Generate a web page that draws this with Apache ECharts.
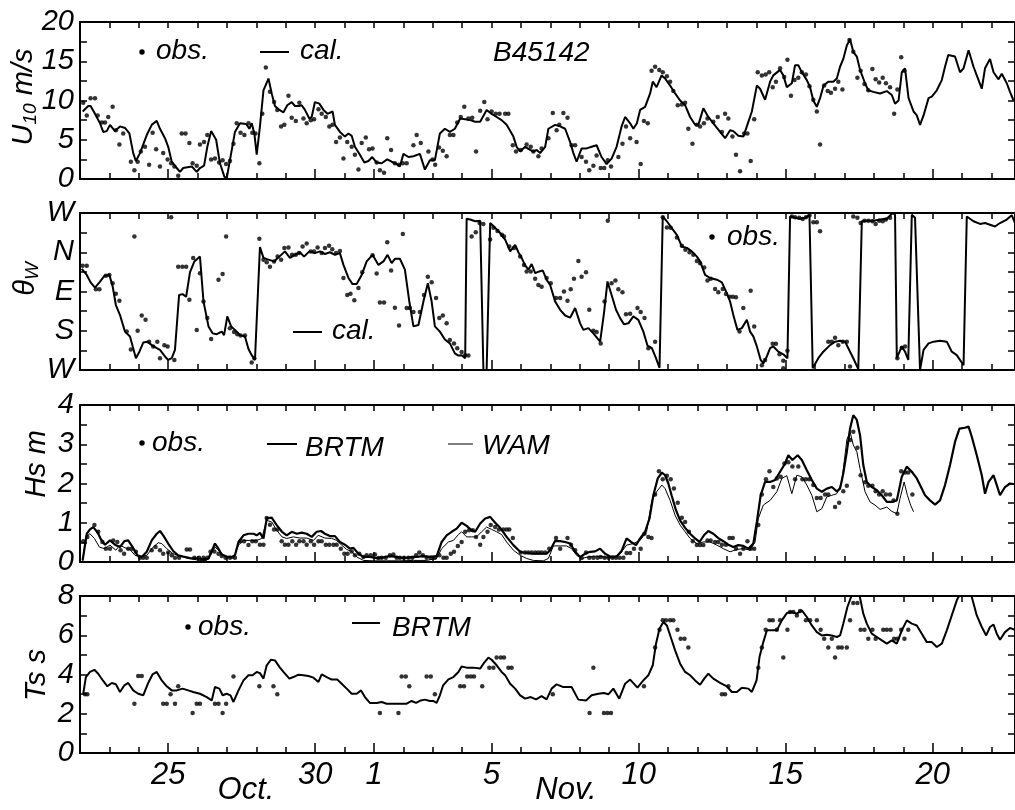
<!DOCTYPE html>
<html>
<head>
<meta charset="utf-8">
<script src="https://cdn.jsdelivr.net/npm/echarts@6/dist/echarts.min.js"></script>
<style>html,body{margin:0;padding:0;background:#fff}#c{width:1015px;height:810px}</style>
</head>
<body>
<div id="c"></div>
<script>
// x values are day numbers: Oct 22 = 22, Oct 31 = 31, Nov 1 = 32 ... Nov 20 = 51
const dayTicks = [25, 30, 32, 36, 41, 46, 51];
const dayLabels = ['25', '30', '1', '5', '10', '15', '20'];
const dirLabels = ['W', 'S', 'E', 'N', 'W']; // 0,90,180,270,360

const u10Cal = [[22.09,8.6],[22.28,9.3],[22.36,9.3],[22.51,8.3],[22.68,7.1],[22.79,6.0],[22.91,6.1],[23.02,6.9],[23.19,6.1],[23.36,6.7],[23.53,6.5],[23.68,5.8],[23.81,3.3],[23.90,2.3],[24.04,3.3],[24.27,5.6],[24.44,6.9],[24.61,7.4],[24.72,6.4],[24.89,5.2],[25.00,4.1],[25.12,2.2],[25.29,1.4],[25.40,0.9],[25.51,1.4],[25.80,1.6],[25.97,0.9],[26.08,1.4],[26.22,1.7],[26.33,4.1],[26.46,6.1],[26.63,5.0],[26.76,2.0],[26.91,0.3],[26.99,0.1],[27.10,2.4],[27.27,6.0],[27.44,7.1],[27.65,7.0],[27.76,6.4],[27.84,7.1],[27.93,5.8],[28.01,3.1],[28.12,6.7],[28.24,11.3],[28.41,12.8],[28.52,10.9],[28.63,9.3],[28.78,8.8],[28.92,8.5],[29.05,9.4],[29.20,9.8],[29.31,9.3],[29.45,9.3],[29.54,9.4],[29.65,8.8],[29.80,7.7],[29.88,7.9],[29.99,9.8],[30.14,9.6],[30.28,8.8],[30.42,8.3],[30.59,8.6],[30.67,6.9],[30.84,6.0],[31.01,5.4],[31.13,5.8],[31.24,5.5],[31.35,4.1],[31.52,3.1],[31.67,2.1],[31.81,2.3],[31.94,2.8],[32.09,2.1],[32.26,2.0],[32.45,2.5],[32.60,2.2],[32.77,1.9],[32.88,1.6],[33.00,3.2],[33.17,2.8],[33.34,2.9],[33.56,3.2],[33.73,1.2],[33.90,2.4],[34.07,2.4],[34.24,5.8],[34.41,6.4],[34.58,6.0],[34.75,6.4],[34.93,7.7],[35.10,7.6],[35.27,7.5],[35.44,7.3],[35.61,7.3],[35.83,8.8],[36.00,8.3],[36.17,7.9],[36.34,7.5],[36.51,6.9],[36.74,5.4],[36.85,4.1],[36.97,3.5],[37.14,4.1],[37.31,3.7],[37.42,3.5],[37.53,3.7],[37.65,3.3],[37.82,4.1],[37.93,6.4],[38.16,6.9],[38.33,6.7],[38.50,6.4],[38.67,4.7],[38.78,3.3],[38.89,2.2],[39.06,3.9],[39.23,3.9],[39.40,4.1],[39.57,4.3],[39.74,2.8],[39.91,1.9],[40.08,2.6],[40.25,4.1],[40.42,6.7],[40.54,7.9],[40.71,7.1],[40.82,6.4],[40.94,7.1],[41.05,8.8],[41.22,9.2],[41.39,10.9],[41.48,12.4],[41.61,11.7],[41.78,13.2],[41.90,12.8],[42.07,11.9],[42.24,10.9],[42.41,10.0],[42.58,9.4],[42.75,7.9],[42.92,6.9],[43.03,6.9],[43.20,9.0],[43.37,7.9],[43.54,7.1],[43.77,6.0],[43.94,5.2],[44.11,6.2],[44.22,6.1],[44.39,5.5],[44.56,5.4],[44.68,6.7],[44.85,8.6],[45.02,11.9],[45.13,11.5],[45.30,10.1],[45.47,12.4],[45.58,13.2],[45.81,13.9],[45.92,13.2],[46.04,11.7],[46.21,12.2],[46.32,14.5],[46.43,14.5],[46.55,13.6],[46.72,12.6],[46.83,11.7],[46.94,10.0],[47.06,9.2],[47.17,10.3],[47.29,11.9],[47.45,12.4],[47.62,12.4],[47.74,12.8],[47.85,14.3],[47.96,15.3],[48.08,17.0],[48.19,17.8],[48.30,16.2],[48.42,15.6],[48.53,13.9],[48.70,12.2],[48.81,11.3],[48.98,11.1],[49.21,10.9],[49.44,11.2],[49.61,10.7],[49.72,9.6],[49.84,10.0],[49.95,13.6],[50.06,14.1],[50.18,10.3],[50.35,8.6],[50.46,8.1],[50.57,6.9],[50.69,8.1],[50.86,10.3],[50.97,10.5],[51.14,11.3],[51.31,12.6],[51.42,14.3],[51.53,15.8],[51.76,15.6],[51.93,13.6],[52.05,14.1],[52.22,16.4],[52.39,14.3],[52.56,12.6],[52.67,11.5],[52.78,14.1],[52.95,15.3],[53.07,13.6],[53.24,12.7],[53.35,13.4],[53.52,12.2],[53.63,11.1],[53.75,10.0]];

const u10Obs = [[22.11,9.7],[22.23,8.1],[22.36,10.3],[22.51,10.3],[22.60,8.1],[22.74,7.2],[22.85,7.2],[22.96,7.9],[23.11,9.2],[23.22,6.2],[23.34,4.4],[23.47,5.8],[23.73,2.2],[23.85,1.1],[23.96,2.2],[24.07,3.5],[24.21,4.1],[24.35,1.8],[24.47,5.9],[24.59,3.8],[24.72,1.6],[24.83,3.3],[24.98,2.5],[25.10,2.0],[25.21,1.6],[25.34,0.4],[25.46,5.8],[25.59,5.8],[25.72,4.6],[25.83,2.0],[25.97,1.7],[26.08,4.4],[26.22,4.7],[26.33,5.6],[26.46,2.5],[26.59,2.6],[26.73,2.1],[26.85,2.4],[26.97,1.9],[27.10,2.3],[27.22,4.5],[27.33,7.1],[27.46,5.9],[27.59,5.6],[27.73,7.1],[27.86,5.9],[27.97,5.8],[28.10,2.0],[28.20,8.3],[28.32,14.2],[28.46,11.1],[28.60,9.8],[28.71,8.8],[28.84,6.7],[28.95,6.9],[29.09,10.6],[29.20,7.8],[29.34,7.4],[29.46,9.7],[29.60,7.7],[29.71,7.1],[29.85,7.5],[29.96,7.6],[30.11,8.9],[30.22,8.3],[30.36,7.9],[30.48,6.7],[30.59,6.9],[30.71,4.7],[30.84,5.3],[30.96,2.6],[31.09,4.7],[31.24,4.1],[31.35,3.1],[31.47,1.2],[31.58,4.6],[31.72,5.3],[31.83,3.8],[31.95,3.9],[32.09,2.1],[32.20,1.1],[32.34,0.8],[32.45,5.2],[32.58,3.7],[32.71,2.0],[32.85,1.8],[32.98,2.0],[33.11,2.0],[33.34,4.3],[33.45,5.6],[33.59,4.6],[33.85,3.5],[33.99,2.5],[34.08,1.8],[34.21,4.0],[34.34,3.6],[34.47,2.9],[34.58,5.6],[34.70,5.6],[34.83,7.2],[34.95,7.9],[35.07,9.2],[35.21,7.7],[35.34,7.8],[35.47,3.5],[35.61,8.7],[35.75,9.8],[35.86,7.6],[36.00,8.6],[36.14,8.3],[36.27,8.3],[36.46,8.3],[36.57,8.3],[36.72,4.3],[36.83,3.5],[36.99,3.7],[37.19,4.4],[37.33,4.1],[37.42,3.5],[37.59,2.9],[37.70,3.9],[37.93,5.2],[38.08,8.4],[38.21,6.2],[38.30,6.9],[38.44,8.4],[38.58,7.8],[38.72,4.3],[38.84,4.3],[39.06,2.8],[39.21,2.2],[39.32,1.1],[39.46,1.7],[39.57,3.0],[39.71,1.4],[39.83,1.4],[39.95,2.4],[40.06,1.6],[40.31,2.8],[40.45,4.5],[40.57,6.7],[40.71,5.2],[40.93,4.7],[41.07,1.9],[41.18,7.4],[41.31,7.1],[41.44,13.8],[41.56,14.3],[41.70,13.9],[41.82,13.6],[41.96,13.1],[42.07,12.4],[42.18,11.2],[42.33,9.4],[42.47,9.5],[42.58,9.7],[42.69,6.4],[42.83,4.5],[42.98,6.9],[43.09,6.7],[43.22,7.1],[43.34,7.7],[43.54,7.3],[43.69,7.9],[43.83,6.0],[43.94,8.3],[44.05,7.7],[44.19,5.4],[44.31,3.1],[44.45,1.0],[44.59,5.8],[44.70,5.8],[44.81,2.3],[44.93,7.6],[45.05,13.6],[45.19,13.2],[45.32,13.3],[45.44,13.6],[45.56,11.7],[45.67,12.4],[45.81,14.1],[45.95,13.0],[46.06,15.2],[46.18,10.6],[46.30,12.6],[46.43,12.9],[46.55,13.6],[46.69,13.3],[46.81,11.8],[46.94,10.1],[47.06,8.6],[47.17,4.4],[47.31,11.9],[47.43,11.2],[47.54,11.0],[47.68,11.5],[47.79,12.4],[47.93,11.4],[48.17,17.7],[48.30,16.2],[48.44,12.9],[48.55,13.8],[48.68,12.1],[48.81,11.3],[48.95,14.0],[49.06,12.7],[49.18,12.3],[49.30,12.9],[49.41,12.2],[49.55,11.7],[49.69,8.3],[49.80,11.4],[49.93,15.5],[50.04,13.8]];

const dirCal = [[22.06,232],[22.23,218],[22.36,201],[22.51,189],[22.66,201],[22.83,216],[23.00,218],[23.11,192],[23.22,149],[23.36,126],[23.53,88],[23.70,77],[23.81,50],[23.90,27],[24.02,42],[24.15,63],[24.29,65],[24.44,57],[24.61,50],[24.72,46],[24.89,31],[25.00,23],[25.12,27],[25.23,46],[25.37,172],[25.49,174],[25.61,168],[25.74,224],[25.89,249],[26.08,260],[26.20,157],[26.37,100],[26.51,84],[26.65,82],[26.82,88],[26.90,80],[27.01,123],[27.14,100],[27.27,92],[27.44,80],[27.61,77],[27.73,48],[27.84,34],[27.95,23],[28.01,19],[28.12,282],[28.24,257],[28.41,253],[28.60,249],[28.78,260],[28.97,272],[29.14,257],[29.31,264],[29.48,270],[29.62,260],[29.80,272],[29.99,268],[30.16,272],[30.33,266],[30.50,270],[30.67,264],[30.84,268],[30.96,241],[31.13,211],[31.27,197],[31.41,197],[31.58,218],[31.75,249],[31.95,264],[32.15,241],[32.32,249],[32.46,264],[32.60,245],[32.71,255],[32.88,255],[33.05,230],[33.20,157],[33.34,100],[33.51,103],[33.68,157],[33.83,199],[33.96,157],[34.07,100],[34.24,88],[34.41,70],[34.58,61],[34.75,38],[34.87,33],[34.98,34],[35.10,27],[35.15,347],[35.27,345],[35.44,341],[35.61,342],[35.72,0],[35.83,0],[35.95,337],[36.12,326],[36.29,314],[36.46,299],[36.63,272],[36.80,287],[36.91,270],[37.02,257],[37.14,240],[37.25,230],[37.36,243],[37.48,222],[37.62,226],[37.74,228],[37.87,207],[37.99,195],[38.16,157],[38.33,138],[38.50,125],[38.67,120],[38.84,142],[39.01,107],[39.12,92],[39.29,96],[39.46,84],[39.69,65],[39.82,130],[39.94,203],[40.08,172],[40.23,138],[40.37,119],[40.50,105],[40.65,107],[40.82,123],[40.99,115],[41.16,88],[41.30,56],[41.45,50],[41.59,27],[41.71,5],[41.82,352],[41.96,341],[42.12,326],[42.30,310],[42.47,283],[42.64,280],[42.81,272],[42.98,260],[43.09,249],[43.26,218],[43.43,211],[43.66,207],[43.83,201],[44.00,176],[44.11,157],[44.22,126],[44.36,92],[44.51,96],[44.68,115],[44.79,88],[44.90,77],[45.02,54],[45.15,23],[45.24,15],[45.36,31],[45.47,50],[45.58,54],[45.75,42],[45.92,36],[46.06,27],[46.15,352],[46.32,349],[46.49,347],[46.66,349],[46.81,355],[46.92,4],[47.11,27],[47.28,42],[47.51,57],[47.68,65],[47.85,67],[48.02,65],[48.19,42],[48.30,27],[48.47,2],[48.59,341],[48.76,342],[48.98,342],[49.21,345],[49.44,347],[49.64,360],[49.72,356],[49.78,27],[49.95,54],[50.06,42],[50.17,23],[50.29,356],[50.40,349],[50.57,0],[50.69,46],[50.86,61],[51.03,65],[51.25,67],[51.48,65],[51.65,42],[51.82,34],[52.05,11],[52.16,352],[52.39,341],[52.61,335],[52.78,337],[52.95,333],[53.12,329],[53.29,337],[53.52,345],[53.69,355],[53.80,337]];

const dirObs = [[22.09,239],[22.23,239],[22.54,185],[22.66,185],[22.88,216],[23.00,218],[23.11,199],[23.22,175],[23.34,159],[23.59,88],[23.73,47],[23.85,306],[23.96,90],[24.10,125],[24.23,115],[24.35,65],[24.49,54],[24.63,65],[24.72,27],[24.87,57],[24.98,54],[25.10,350],[25.21,23],[25.34,237],[25.48,237],[25.61,237],[25.72,161],[25.85,257],[25.97,92],[26.08,222],[26.20,157],[26.33,119],[26.46,71],[26.71,207],[26.85,220],[26.97,306],[27.10,96],[27.24,87],[27.35,82],[27.46,79],[27.61,79],[27.84,17],[27.93,27],[28.10,301],[28.24,253],[28.35,247],[28.46,237],[28.60,249],[28.72,260],[28.84,253],[28.95,280],[29.09,281],[29.21,264],[29.34,264],[29.45,268],[29.57,283],[29.71,290],[29.85,272],[29.96,272],[30.08,281],[30.22,268],[30.33,280],[30.47,285],[30.58,277],[30.71,268],[30.84,273],[30.96,211],[31.09,172],[31.20,175],[31.33,160],[31.47,188],[31.60,224],[31.95,263],[32.09,221],[32.20,155],[32.34,155],[32.45,293],[32.58,228],[32.71,143],[32.85,102],[32.98,312],[33.11,142],[33.22,142],[33.34,133],[33.56,133],[33.70,172],[33.83,214],[33.96,201],[34.11,165],[34.22,119],[34.34,125],[34.47,107],[34.58,69],[34.72,61],[34.83,50],[34.98,41],[35.10,34],[35.21,33],[35.32,306],[35.46,316],[35.59,337],[35.72,335],[35.95,299],[36.06,326],[36.20,319],[36.35,310],[36.42,306],[36.60,283],[36.76,280],[36.97,260],[37.10,241],[37.19,226],[37.33,226],[37.48,209],[37.59,195],[37.70,191],[37.87,211],[38.01,199],[38.19,165],[38.33,165],[38.46,180],[38.58,159],[38.69,185],[38.80,209],[38.95,250],[39.06,214],[39.21,224],[39.32,138],[39.46,90],[39.57,87],[39.71,61],[39.84,157],[39.95,342],[40.08,199],[40.21,205],[40.31,185],[40.45,178],[40.57,128],[40.71,129],[40.96,142],[41.07,133],[41.20,119],[41.33,50],[41.56,65],[41.82,350],[41.96,327],[42.09,326],[42.30,304],[42.47,285],[42.59,276],[42.73,270],[42.86,264],[42.98,250],[43.09,245],[43.23,235],[43.34,205],[43.45,209],[43.60,186],[43.71,178],[43.86,186],[43.97,174],[44.09,168],[44.20,168],[44.31,167],[44.43,88],[44.56,142],[44.81,182],[44.93,100],[45.19,11],[45.30,23],[45.56,60],[45.67,60],[45.79,36],[45.92,21],[45.92,4],[46.06,44],[46.21,352],[46.32,350],[46.46,349],[46.58,346],[46.69,350],[46.81,355],[46.94,339],[47.06,339],[47.17,318],[47.45,65],[47.57,65],[47.68,74],[47.79,57],[47.94,65],[48.08,65],[48.19,8],[48.30,352],[48.44,349],[48.55,337],[48.68,342],[48.81,342],[48.95,341],[49.06,335],[49.18,342],[49.30,341],[49.41,345],[49.55,349],[49.80,27],[49.95,51],[50.06,54]];

const hsBrtm = [[22.09,0.04],[22.23,0.72],[22.34,0.83],[22.45,0.89],[22.60,0.75],[22.71,0.58],[22.85,0.44],[23.02,0.55],[23.19,0.44],[23.36,0.38],[23.51,0.53],[23.64,0.55],[23.79,0.38],[23.95,0.17],[24.10,0.13],[24.27,0.26],[24.44,0.55],[24.61,0.72],[24.72,0.79],[24.83,0.68],[25.00,0.47],[25.17,0.28],[25.34,0.17],[25.51,0.14],[25.74,0.10],[25.97,0.09],[26.20,0.07],[26.37,0.09],[26.44,0.21],[26.59,0.47],[26.71,0.34],[26.82,0.19],[26.99,0.14],[27.16,0.13],[27.27,0.17],[27.39,0.51],[27.56,0.68],[27.73,0.72],[27.90,0.72],[28.01,0.68],[28.12,0.74],[28.24,0.60],[28.35,1.11],[28.52,1.13],[28.69,0.94],[28.87,0.77],[29.03,0.68],[29.20,0.77],[29.37,0.72],[29.54,0.75],[29.71,0.72],[29.88,0.64],[30.05,0.77],[30.20,0.79],[30.33,0.72],[30.50,0.66],[30.67,0.66],[30.84,0.51],[31.01,0.44],[31.18,0.34],[31.30,0.36],[31.47,0.21],[31.64,0.13],[31.86,0.13],[32.09,0.10],[32.32,0.12],[32.54,0.15],[32.77,0.13],[33.00,0.10],[33.22,0.12],[33.45,0.13],[33.68,0.15],[33.90,0.13],[34.13,0.15],[34.30,0.51],[34.47,0.68],[34.64,0.77],[34.81,0.85],[34.98,1.00],[35.15,0.92],[35.32,0.81],[35.44,0.77],[35.61,0.98],[35.78,1.11],[35.95,1.15],[36.12,1.00],[36.29,0.87],[36.51,0.64],[36.74,0.43],[36.97,0.26],[37.19,0.23],[37.42,0.21],[37.65,0.21],[37.87,0.21],[37.99,0.30],[38.16,0.54],[38.33,0.53],[38.50,0.51],[38.67,0.47],[38.84,0.26],[39.01,0.13],[39.18,0.21],[39.35,0.26],[39.52,0.27],[39.69,0.34],[39.86,0.21],[40.03,0.14],[40.25,0.14],[40.42,0.28],[40.59,0.60],[40.74,0.51],[40.91,0.43],[41.05,0.60],[41.22,0.77],[41.37,1.11],[41.50,1.70],[41.65,2.13],[41.79,2.28],[41.90,2.21],[42.01,2.00],[42.12,1.70],[42.27,1.32],[42.41,1.06],[42.58,0.87],[42.75,0.72],[42.92,0.60],[43.07,0.51],[43.22,0.68],[43.37,0.79],[43.54,0.72],[43.71,0.61],[43.88,0.53],[44.05,0.44],[44.22,0.38],[44.39,0.43],[44.56,0.41],[44.73,0.34],[44.90,0.47],[45.02,1.02],[45.15,1.70],[45.30,2.04],[45.47,2.04],[45.64,2.09],[45.81,2.30],[45.98,2.51],[46.09,2.72],[46.23,2.60],[46.41,2.72],[46.55,2.60],[46.72,2.34],[46.89,2.09],[47.06,1.87],[47.23,1.79],[47.40,1.87],[47.57,1.91],[47.74,1.80],[47.85,1.87],[47.96,2.26],[48.08,2.81],[48.19,3.40],[48.30,3.74],[48.42,3.62],[48.53,3.23],[48.64,2.47],[48.76,2.04],[48.93,1.91],[49.10,1.83],[49.27,1.70],[49.44,1.53],[49.61,1.53],[49.78,1.57],[49.95,2.17],[50.12,2.43],[50.29,2.30],[50.46,2.13],[50.57,1.96],[50.74,1.70],[50.91,1.57],[51.08,1.46],[51.25,1.57],[51.42,1.96],[51.59,2.47],[51.76,3.06],[51.91,3.40],[52.10,3.42],[52.22,3.45],[52.33,3.19],[52.50,2.72],[52.67,2.21],[52.78,1.74],[52.90,2.04],[53.07,2.21],[53.18,1.96],[53.29,1.70],[53.46,1.91],[53.63,2.00],[53.80,1.98]];

const hsWam = [[22.09,0.0],[22.20,0.64],[22.34,0.72],[22.49,0.60],[22.66,0.38],[22.83,0.34],[23.02,0.43],[23.22,0.30],[23.36,0.43],[23.53,0.36],[23.70,0.32],[23.87,0.17],[24.04,0.13],[24.27,0.17],[24.49,0.38],[24.66,0.49],[24.78,0.47],[24.95,0.34],[25.17,0.21],[25.40,0.15],[25.63,0.10],[25.85,0.07],[26.08,0.04],[26.31,0.04],[26.44,0.17],[26.59,0.38],[26.76,0.27],[26.93,0.13],[27.22,0.09],[27.39,0.43],[27.56,0.55],[27.79,0.55],[28.01,0.55],[28.18,0.60],[28.35,1.06],[28.52,1.02],[28.69,0.81],[28.87,0.64],[29.03,0.60],[29.26,0.64],[29.48,0.61],[29.71,0.61],[29.94,0.55],[30.10,0.68],[30.33,0.61],[30.56,0.60],[30.73,0.55],[30.90,0.43],[31.07,0.32],[31.24,0.27],[31.41,0.13],[31.64,0.04],[31.98,0.03],[32.43,0.03],[32.88,0.03],[33.34,0.04],[33.79,0.04],[34.13,0.09],[34.30,0.34],[34.53,0.51],[34.70,0.55],[34.87,0.70],[34.98,0.77],[35.15,0.64],[35.32,0.64],[35.49,0.64],[35.66,0.77],[35.83,0.89],[36.00,0.83],[36.17,0.77],[36.34,0.70],[36.51,0.51],[36.74,0.30],[36.97,0.17],[37.19,0.09],[37.42,0.04],[37.76,0.03],[37.93,0.09],[38.10,0.41],[38.33,0.41],[38.55,0.41],[38.72,0.34],[38.89,0.17],[39.06,0.09],[39.29,0.13],[39.57,0.15],[39.80,0.13],[40.14,0.10],[40.37,0.21],[40.59,0.43],[40.82,0.47],[41.05,0.55],[41.27,0.77],[41.45,1.57],[41.61,1.79],[41.79,1.96],[41.90,1.87],[42.07,1.57],[42.24,1.19],[42.41,0.94],[42.58,0.77],[42.75,0.60],[42.98,0.47],[43.20,0.51],[43.43,0.51],[43.66,0.43],[43.88,0.34],[44.11,0.26],[44.34,0.32],[44.56,0.34],[44.79,0.30],[44.96,0.51],[45.07,1.11],[45.24,1.45],[45.47,1.57],[45.70,1.79],[45.87,2.13],[46.04,2.20],[46.21,1.74],[46.38,2.21],[46.55,2.17],[46.72,1.96],[46.89,1.70],[47.06,1.28],[47.23,1.36],[47.40,1.66],[47.57,1.70],[47.74,1.74],[47.91,2.04],[48.08,3.11],[48.19,3.32],[48.30,2.98],[48.42,2.81],[48.53,2.38],[48.70,1.79],[48.87,1.53],[49.04,1.45],[49.21,1.34],[49.44,1.40],[49.61,1.29],[49.78,1.23],[49.89,1.62],[50.03,2.04],[50.14,1.70],[50.25,1.45],[50.35,1.28]];

const hsObs = [[22.11,0.53],[22.25,0.64],[22.49,0.94],[22.62,0.77],[22.76,0.51],[22.88,0.34],[23.02,0.34],[23.13,0.55],[23.27,0.51],[23.38,0.30],[23.50,0.21],[23.64,0.34],[23.76,0.34],[23.90,0.26],[24.04,0.11],[24.15,0.11],[24.27,0.11],[24.44,0.30],[24.57,0.38],[24.72,0.30],[24.83,0.21],[25.00,0.24],[25.12,0.17],[25.23,0.11],[25.37,0.11],[25.63,0.32],[25.74,0.32],[25.89,0.11],[26.05,0.11],[26.20,0.11],[26.33,0.11],[26.44,0.26],[26.57,0.27],[26.71,0.21],[26.82,0.15],[26.95,0.11],[27.10,0.11],[27.27,0.11],[27.46,0.53],[27.58,0.53],[27.73,0.43],[27.86,0.53],[27.98,0.53],[28.12,0.44],[28.24,0.44],[28.35,1.12],[28.46,0.95],[28.60,0.83],[28.72,0.83],[28.86,0.53],[28.97,0.44],[29.09,0.44],[29.22,0.53],[29.35,0.44],[29.46,0.53],[29.60,0.53],[29.71,0.44],[29.85,0.53],[29.96,0.44],[30.11,0.53],[30.22,0.53],[30.36,0.44],[30.48,0.44],[30.62,0.44],[30.73,0.44],[30.87,0.34],[30.99,0.21],[31.10,0.21],[31.24,0.27],[31.35,0.17],[31.50,0.21],[31.64,0.13],[31.75,0.17],[31.89,0.17],[32.03,0.19],[32.15,0.10],[32.26,0.11],[32.40,0.11],[32.54,0.17],[32.66,0.19],[32.77,0.11],[32.88,0.11],[33.02,0.11],[33.17,0.11],[33.30,0.11],[33.43,0.17],[33.54,0.24],[33.66,0.17],[33.79,0.11],[33.93,0.11],[34.07,0.11],[34.22,0.17],[34.36,0.11],[34.47,0.11],[34.61,0.21],[34.72,0.26],[34.85,0.41],[34.98,0.51],[35.10,0.77],[35.23,0.81],[35.36,0.81],[35.47,0.64],[35.61,0.44],[35.72,0.64],[35.86,0.77],[35.97,0.94],[36.12,0.89],[36.25,0.83],[36.40,0.83],[36.51,0.83],[36.60,0.83],[36.72,0.61],[36.99,0.24],[37.14,0.24],[37.25,0.24],[37.36,0.24],[37.48,0.24],[37.59,0.24],[37.70,0.24],[37.82,0.24],[37.96,0.34],[38.19,0.61],[38.33,0.34],[38.58,0.61],[38.70,0.44],[38.84,0.30],[39.06,0.10],[39.21,0.24],[39.32,0.11],[39.46,0.11],[39.60,0.11],[39.71,0.13],[39.84,0.11],[39.97,0.11],[40.11,0.11],[40.23,0.11],[40.35,0.11],[40.48,0.11],[40.59,0.23],[40.71,0.23],[40.84,0.34],[41.07,0.34],[41.20,0.72],[41.33,0.64],[41.44,0.61],[41.56,1.72],[41.69,2.31],[41.82,2.11],[41.96,2.20],[42.09,2.11],[42.20,1.87],[42.33,1.51],[42.47,1.13],[42.58,1.02],[42.71,0.77],[42.84,0.53],[42.98,0.43],[43.09,0.43],[43.20,0.43],[43.34,0.55],[43.45,0.55],[43.60,0.51],[43.71,0.51],[43.83,0.44],[43.97,0.44],[44.09,0.61],[44.20,0.61],[44.31,0.34],[44.45,0.21],[44.56,0.34],[44.70,0.53],[44.81,0.34],[44.93,0.34],[45.07,0.94],[45.19,1.72],[45.33,2.11],[45.45,2.31],[45.58,1.91],[45.70,2.13],[45.83,2.17],[45.96,2.51],[46.09,2.54],[46.23,2.43],[46.32,2.11],[46.43,2.43],[46.57,2.11],[46.69,2.11],[46.81,2.11],[46.94,1.96],[47.06,1.63],[47.19,1.63],[47.34,1.72],[47.45,1.72],[47.68,1.40],[47.82,1.51],[47.96,1.80],[48.08,1.94],[48.19,3.11],[48.30,3.32],[48.44,2.91],[48.55,2.21],[48.70,2.03],[48.81,1.94],[48.95,1.94],[49.06,1.80],[49.18,1.72],[49.30,1.80],[49.41,1.72],[49.55,1.72],[49.67,1.57],[49.80,1.23],[49.93,2.31],[50.06,2.28],[50.17,2.28],[50.31,1.72]];

const tsBrtm = [[22.11,3.02],[22.20,3.87],[22.34,4.13],[22.49,4.24],[22.62,4.04],[22.79,3.67],[22.93,3.40],[23.08,3.57],[23.22,3.50],[23.36,3.11],[23.51,3.45],[23.64,3.57],[23.81,3.19],[23.98,3.02],[24.15,2.94],[24.32,3.57],[24.47,4.01],[24.61,4.13],[24.78,3.70],[24.95,3.40],[25.12,3.19],[25.29,3.19],[25.49,3.28],[25.68,3.19],[25.85,3.11],[26.08,3.02],[26.31,2.85],[26.48,2.68],[26.59,3.36],[26.74,3.28],[26.85,2.94],[26.99,3.02],[27.12,2.94],[27.22,2.60],[27.39,3.19],[27.56,3.70],[27.73,3.96],[27.87,3.96],[28.01,4.13],[28.12,4.07],[28.24,3.79],[28.35,4.47],[28.49,4.75],[28.63,4.72],[28.80,4.35],[28.92,4.13],[29.12,3.79],[29.26,3.87],[29.43,3.99],[29.60,3.96],[29.77,3.92],[29.94,3.84],[30.11,3.62],[30.22,4.01],[30.39,3.87],[30.56,3.74],[30.75,3.74],[30.90,3.53],[31.07,3.28],[31.24,3.02],[31.41,3.02],[31.56,3.19],[31.69,2.85],[31.86,2.55],[32.09,2.55],[32.26,2.60],[32.43,2.51],[32.66,2.51],[32.88,2.51],[33.11,2.51],[33.28,2.65],[33.43,2.55],[33.59,2.68],[33.73,2.72],[33.90,2.65],[34.01,2.65],[34.13,2.55],[34.24,2.94],[34.35,3.45],[34.53,3.75],[34.70,3.87],[34.87,4.13],[34.98,4.41],[35.15,4.35],[35.38,4.35],[35.61,4.30],[35.72,4.55],[35.89,4.86],[36.00,4.75],[36.17,4.47],[36.34,4.13],[36.46,3.96],[36.63,3.53],[36.80,3.28],[36.97,2.94],[37.14,2.77],[37.33,2.85],[37.51,2.73],[37.70,2.90],[37.87,2.73],[38.04,3.28],[38.21,3.50],[38.44,3.36],[38.72,3.36],[38.95,2.72],[39.21,2.68],[39.40,2.94],[39.63,3.02],[39.82,3.06],[39.97,2.99],[40.14,3.28],[40.34,2.77],[40.54,3.53],[40.71,3.74],[40.96,3.33],[41.16,3.70],[41.33,3.96],[41.48,4.47],[41.59,5.57],[41.71,6.33],[41.84,6.67],[41.96,6.50],[42.09,5.91],[42.24,5.23],[42.41,4.55],[42.58,4.13],[42.75,3.96],[42.92,3.70],[43.09,3.48],[43.23,3.79],[43.37,4.04],[43.54,3.79],[43.77,3.57],[44.00,3.40],[44.17,3.11],[44.34,3.11],[44.51,3.33],[44.73,3.28],[44.85,3.11],[45.01,3.70],[45.11,4.89],[45.24,5.65],[45.36,6.25],[45.53,6.25],[45.70,6.25],[45.87,6.76],[46.04,7.13],[46.21,7.18],[46.38,7.10],[46.55,7.27],[46.72,6.93],[46.89,6.50],[47.06,6.16],[47.23,5.99],[47.40,6.03],[47.57,5.99],[47.74,5.91],[47.85,5.99],[47.96,6.59],[48.10,7.44],[48.25,8.05],[48.36,8.2],[48.51,8.05],[48.64,7.10],[48.76,6.59],[48.93,6.08],[49.10,5.91],[49.27,5.74],[49.44,5.57],[49.61,5.74],[49.78,5.57],[49.95,6.25],[50.12,6.76],[50.29,6.59],[50.46,6.50],[50.63,6.08],[50.80,5.65],[50.97,5.65],[51.14,5.40],[51.31,5.57],[51.48,6.25],[51.65,7.01],[51.82,7.78],[51.93,8.1],[52.16,8.3],[52.33,7.95],[52.50,7.01],[52.67,6.42],[52.82,5.99],[52.95,6.42],[53.07,6.55],[53.18,6.08],[53.29,5.77],[53.46,6.16],[53.63,6.37],[53.80,6.28]];

const tsObs = [[22.17,2.99],[22.25,2.99],[23.85,2.51],[23.98,3.92],[24.10,3.92],[24.83,2.51],[24.95,2.51],[25.08,2.99],[25.23,2.51],[25.34,3.40],[25.83,2.04],[25.97,2.51],[26.08,2.51],[26.59,2.51],[26.71,2.51],[26.85,2.04],[26.97,2.51],[27.22,3.90],[28.10,3.40],[28.58,3.40],[28.71,2.99],[32.20,2.04],[32.83,2.04],[32.94,3.90],[33.08,3.90],[33.20,3.40],[33.79,3.90],[33.93,3.90],[34.07,2.99],[34.93,3.40],[35.06,3.40],[35.17,3.90],[35.29,3.90],[35.40,3.90],[35.68,3.40],[35.92,4.35],[36.06,4.35],[36.17,4.86],[36.31,4.86],[36.42,4.86],[36.57,4.35],[36.68,4.35],[38.08,2.99],[39.33,2.04],[39.46,4.35],[39.82,2.04],[39.94,2.04],[40.06,2.04],[41.18,3.40],[41.56,5.37],[41.71,6.28],[41.82,6.76],[41.93,6.76],[42.07,6.76],[42.18,6.76],[42.32,6.28],[42.43,5.82],[42.56,5.82],[42.69,5.37],[43.83,2.99],[43.94,2.99],[44.05,3.40],[45.07,4.35],[45.19,5.37],[45.32,6.28],[45.45,6.76],[45.56,6.76],[45.70,6.28],[45.81,6.76],[45.92,4.86],[46.06,6.28],[46.15,7.18],[46.26,7.18],[46.38,7.01],[46.49,7.23],[46.69,6.76],[46.83,6.76],[47.06,6.76],[47.19,6.28],[47.31,5.82],[47.45,5.37],[47.57,5.82],[47.68,4.86],[47.79,5.37],[47.91,5.37],[48.08,5.37],[48.19,6.76],[48.30,7.64],[48.44,7.64],[48.55,6.28],[48.68,6.28],[48.81,5.82],[48.95,6.28],[49.06,5.82],[49.32,6.28],[49.44,6.28],[49.57,6.28],[49.69,5.82],[49.80,5.82],[49.93,6.28],[50.04,5.82],[50.17,6.28]];

const FONT = '"Liberation Sans", Arial, sans-serif';
const tickFont = {fontFamily: FONT, fontStyle: 'italic', fontSize: 29, color: '#000'};
const xTickFont = {fontFamily: FONT, fontStyle: 'italic', fontSize: 31, color: '#000'};
const black = '#000';
const tops = [22, 213, 405, 596];
const panelH = 157;
const panels = [
  {min: 0, max: 20, interval: 2.5, fmt: v => (v % 5 === 0 ? String(v) : '')},
  {min: 0, max: 360, interval: 45, fmt: v => (v % 90 === 0 ? dirLabels[v / 90] : '')},
  {min: 0, max: 4, interval: 0.5, fmt: v => (Number.isInteger(v) ? String(v) : '')},
  {min: 0, max: 8, interval: 1, fmt: v => (v % 2 === 0 ? String(v) : '')}
];

const grid = [], xAxis = [], yAxis = [];
panels.forEach((p, i) => {
  grid.push({left: 80, top: tops[i], width: 935, height: panelH, containLabel: false});
  const line = {show: true, onZero: false, lineStyle: {color: black, width: 2}};
  const tick = {show: true, inside: true, length: 6, lineStyle: {color: black, width: 1.5}};
  xAxis.push({type: 'value', gridIndex: i, position: 'bottom', min: 22, max: 53.8, interval: 1,
    axisLine: line, axisTick: tick, axisLabel: {show: false}, splitLine: {show: false}});
  xAxis.push({type: 'value', gridIndex: i, position: 'bottom', min: 22, max: 53.8,
    axisLine: {show: false}, splitLine: {show: false},
    axisTick: {show: true, inside: true, length: 10, customValues: dayTicks, lineStyle: {color: black, width: 1.5}},
    axisLabel: Object.assign({show: i === 3, customValues: dayTicks, margin: 7,
      formatter: v => dayLabels[dayTicks.indexOf(v)]}, xTickFont)});
  xAxis.push({type: 'value', gridIndex: i, position: 'top', min: 22, max: 53.8, interval: 1,
    axisLine: line, axisTick: tick, axisLabel: {show: false}, splitLine: {show: false}});
  yAxis.push({type: 'value', gridIndex: i, position: 'left', min: p.min, max: p.max, interval: p.interval,
    axisLine: line, axisTick: {show: true, inside: true, length: 7, lineStyle: {color: black, width: 1.5}},
    axisLabel: Object.assign({margin: 6, formatter: p.fmt, showMinLabel: true, showMaxLabel: true}, tickFont),
    splitLine: {show: false}});
  yAxis.push({type: 'value', gridIndex: i, position: 'right', min: p.min, max: p.max, interval: p.interval,
    axisLine: line, axisTick: {show: true, inside: true, length: 7, lineStyle: {color: black, width: 1.5}},
    axisLabel: {show: false}, splitLine: {show: false}});
});

function lineS(i, data, w) {
  return {type: 'line', xAxisIndex: 3 * i, yAxisIndex: 2 * i, data: data, symbol: 'none',
    lineStyle: {color: black, width: w}, clip: true, z: 3};
}
function dotS(i, data) {
  return {type: 'scatter', xAxisIndex: 3 * i, yAxisIndex: 2 * i, data: data, symbol: 'circle',
    symbolSize: 4.5, itemStyle: {color: black}, z: 4};
}

const series = [
  lineS(0, u10Cal, 2), dotS(0, u10Obs),
  lineS(1, dirCal, 2), dotS(1, dirObs),
  lineS(2, hsWam, 1), lineS(2, hsBrtm, 2.2), dotS(2, hsObs),
  lineS(3, tsBrtm, 2), dotS(3, tsObs)
];

const LF = 'italic 28px "Liberation Sans", Arial, sans-serif';
const BF = 'italic 31px "Liberation Sans", Arial, sans-serif';
function txt(x, y, s, font, align) {
  return {type: 'text', x: x, y: y, style: {text: s, font: font || LF, fill: black, verticalAlign: 'middle', align: align || 'left'}};
}
function dot(x, y) { return {type: 'circle', shape: {cx: x, cy: y, r: 2.7}, style: {fill: black}}; }
function seg(x1, x2, y, w) { return {type: 'line', shape: {x1: x1, y1: y, x2: x2, y2: y}, style: {stroke: black, lineWidth: w}}; }
function vname(x, y, text, rich) {
  return {type: 'text', x: x, y: y, rotation: Math.PI / 2,
    style: {text: text, rich: rich, align: 'center', verticalAlign: 'middle', fill: black}};
}
const big = {fontFamily: FONT, fontStyle: 'italic', fontSize: 29, color: black, lineHeight: 32};
const sub = {fontFamily: FONT, fontStyle: 'italic', fontSize: 19, color: black, verticalAlign: 'bottom'};

const graphic = [
  dot(142, 52), txt(156, 51, 'obs.'), seg(260, 289, 52, 2), txt(300, 51, 'cal.'), txt(493, 53, 'B45142'),
  seg(293, 322, 332, 2), txt(332, 331, 'cal.'), dot(712, 237), txt(727, 237, 'obs.'),
  dot(142, 443), txt(152, 443, 'obs.'), seg(267, 297, 444, 2), txt(305, 448, 'BRTM'), seg(448, 473, 444, 1), txt(482, 446, 'WAM'),
  dot(188, 627), txt(198, 627, 'obs.'), seg(352, 380, 623, 2), txt(392, 628, 'BRTM'),
  txt(246, 790, 'Oct.', BF, 'center'),
  txt(566, 790, 'Nov.', BF, 'center'),
  vname(24, 97, '{a|U}{b|10}{a| m/s}', {a: big, b: sub}),
  vname(26, 279, '{a|θ}{b|W}', {a: big, b: sub}),
  vname(37, 464, '{a|Hs m}', {a: big}),
  vname(37, 675, '{a|Ts s}', {a: big})
];

const chart = echarts.init(document.getElementById('c'), null, {renderer: 'canvas'});
chart.setOption({animation: false, backgroundColor: '#fff', grid, xAxis, yAxis, series, graphic});
</script>
</body>
</html>
